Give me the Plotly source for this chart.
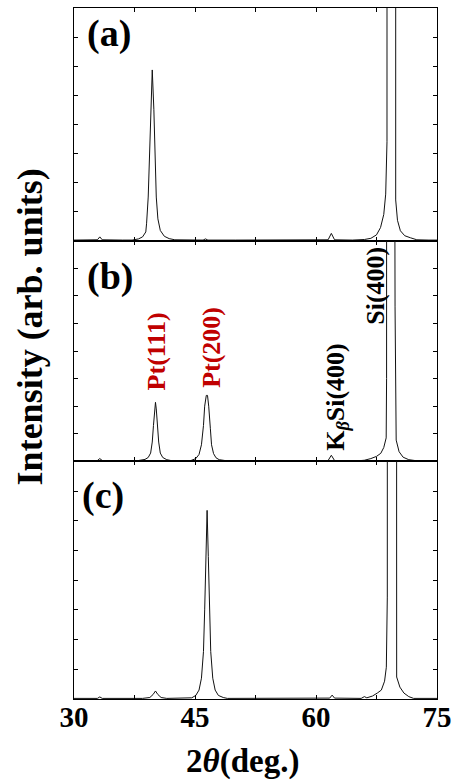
import plotly.graph_objects as go

# ---------------- data ----------------
# panel (a)
xa = [30.0, 32.0, 32.9, 33.2, 33.5, 36.0, 37.2, 38.0, 38.5, 38.9, 39.0, 39.2, 39.35, 39.5, 39.7,
      39.9, 40.05, 40.2, 40.4, 40.7, 41.2, 41.8, 42.5, 44.0, 46.0, 46.3, 46.6, 50.0, 55.0, 60.0,
      61.5, 61.9, 62.3, 64.5, 65.2, 66.0, 66.8, 67.5, 68.0, 68.4, 68.64, 68.8, 68.85, 69.85, 69.88,
      70.1, 70.46, 71.0, 71.7, 72.5, 74.0, 75.0]
ya = [0.02, 0.02, 0.03, 0.13, 0.03, 0.02, 0.02, 0.06, 0.13, 0.3, 0.6, 1.5, 2.8, 4.5, 5.87,
      4.5, 2.8, 1.5, 0.75, 0.35, 0.15, 0.07, 0.03, 0.02, 0.02, 0.06, 0.02, 0.02, 0.02, 0.02,
      0.03, 0.25, 0.03, 0.02, 0.02, 0.04, 0.08, 0.2, 0.45, 0.9, 1.6, 3.4, 150.0, 150.0, 1.4,
      0.7, 0.34, 0.17, 0.1, 0.03, 0.02, 0.02]

# panel (b)
xb = [30.0, 32.9, 33.2, 33.5, 36.0, 38.0, 38.8, 39.2, 39.5, 39.7, 39.85, 40.0, 40.1, 40.2,
      40.35, 40.5, 40.7, 41.0, 41.5, 42.0, 43.0, 44.5, 45.1, 45.5, 45.8, 46.05, 46.2, 46.4,
      46.55, 46.7, 46.9, 47.05, 47.3, 47.6, 48.0, 48.7, 50.0, 55.0, 61.5, 61.9, 62.3, 65.2,
      66.0, 66.8, 67.5, 68.03, 68.4, 68.7, 68.75, 68.85, 69.78, 69.8, 69.94, 70.3, 70.8, 71.5,
      72.5, 75.0]
yb = [0.02, 0.03, 0.1, 0.03, 0.02, 0.03, 0.07, 0.14, 0.3, 0.7, 1.3, 1.9, 2.14, 1.9,
      1.3, 0.7, 0.3, 0.14, 0.06, 0.03, 0.02, 0.03, 0.1, 0.25, 0.6, 1.3, 2.0, 2.39,
      2.39, 2.0, 1.2, 0.6, 0.28, 0.13, 0.06, 0.03, 0.02, 0.02, 0.03, 0.22, 0.03, 0.02,
      0.04, 0.1, 0.18, 0.29, 0.5, 0.85, 3.0, 150.0, 150.0, 5.6, 0.77, 0.35, 0.15, 0.06,
      0.02, 0.02]

# panel (c)
xc = [30.0, 32.9, 33.2, 33.5, 38.5, 39.4, 39.8, 40.1, 40.4, 40.8, 41.5, 44.0, 44.6, 45.1,
      45.5, 45.8, 46.05, 46.2, 46.35, 46.5, 46.65, 46.8, 46.95, 47.2, 47.5, 47.9, 48.5, 49.0,
      55.0, 61.7, 62.0, 62.3, 65.6, 66.0, 66.3, 67.0, 67.6, 68.1, 68.5, 68.72, 68.84, 68.9,
      69.85, 69.94, 70.0, 70.4, 70.9, 71.5, 72.1, 75.0]
yc = [0.02, 0.02, 0.07, 0.02, 0.02, 0.05, 0.15, 0.27, 0.15, 0.05, 0.02, 0.02, 0.04, 0.12,
      0.3, 0.7, 1.6, 3.0, 4.8, 6.35, 4.8, 3.0, 1.6, 0.7, 0.3, 0.12, 0.05, 0.02,
      0.02, 0.03, 0.13, 0.03, 0.02, 0.08, 0.04, 0.1, 0.2, 0.3, 0.6, 1.07, 3.43, 150.0,
      150.0, 3.0, 0.74, 0.4, 0.2, 0.08, 0.02, 0.02]

x_tickvals = [30, 45, 60, 75]
x_ticktext = ["30", "45", "60", "75"]
x_minor_tickvals = [37.5, 52.5, 67.5]
panel_labels = ["(a)", "(b)", "(c)"]
peak_labels = ["Pt(111)", "Pt(200)", "Si(400)", "K<sub><i>β</i></sub>Si(400)"]
y_title = "Intensity (arb. units)"
x_title = "2<i>θ</i>(deg.)"

# ---------------- figure ----------------
SERIF = "Liberation Serif"
fig = go.Figure()
line = dict(color="#111111", width=1)
fig.add_trace(go.Scatter(x=xa, y=ya, mode="lines", line=line, xaxis="x", yaxis="y", showlegend=False))
fig.add_trace(go.Scatter(x=xb, y=yb, mode="lines", line=line, xaxis="x2", yaxis="y2", showlegend=False))
fig.add_trace(go.Scatter(x=xc, y=yc, mode="lines", line=line, xaxis="x3", yaxis="y3", showlegend=False))

ax_common = dict(showline=True, linecolor="black", linewidth=1, mirror="allticks",
                 ticks="inside", ticklen=4, tickcolor="black", tickwidth=1,
                 showgrid=False, zeroline=False)
ph = 692.0
dom_c = [0, 238 / ph]
dom_b = [238 / ph, 459 / ph]
dom_a = [459 / ph, 1]

xcommon = dict(range=[30, 75], tickvals=x_tickvals, ticktext=x_ticktext,
               minor=dict(tickvals=x_minor_tickvals, ticks="inside", ticklen=4,
                          tickcolor="black", tickwidth=1, showgrid=False),
               **ax_common)
ycommon = dict(range=[0, 8], dtick=1, tick0=0, showticklabels=False, **ax_common)

fig.update_layout(
    width=459, height=781,
    margin=dict(l=74, r=15, t=7, b=82),
    paper_bgcolor="white", plot_bgcolor="white",
    xaxis=dict(anchor="y", showticklabels=False, matches="x3", **xcommon),
    xaxis2=dict(anchor="y2", showticklabels=False, matches="x3", **xcommon),
    xaxis3=dict(anchor="y3", showticklabels=True, ticklabelstandoff=-8,
                ticklabeloverflow="allow",
                tickfont=dict(family=SERIF, size=29, color="black", weight="bold"), **xcommon),
    yaxis=dict(domain=dom_a, anchor="x", **ycommon),
    yaxis2=dict(domain=dom_b, anchor="x2", **ycommon),
    yaxis3=dict(domain=dom_c, anchor="x3", **ycommon),
)

def px2paper(px, py):
    return (px - 74) / 370.0, (699 - py) / ph

anns = []
# panel labels
for lab, (cx, cy) in zip(panel_labels, [(110, 33), (111, 276), (104, 495)]):
    x, y = px2paper(cx, cy)
    anns.append(dict(text="<b>%s</b>" % lab, x=x, y=y, xref="paper", yref="paper",
                     xanchor="center", yanchor="middle", showarrow=False,
                     font=dict(family=SERIF, size=38, color="black")))
# peak labels (rotated)
for lab, (cx, cy), col in zip(peak_labels,
                              [(158.5, 351), (214, 347), (381, 285), (342.5, 396)],
                              ["#C00000", "#C00000", "black", "black"]):
    x, y = px2paper(cx, cy)
    anns.append(dict(text="<b>%s</b>" % lab, x=x, y=y, xref="paper", yref="paper",
                     xanchor="center", yanchor="middle", showarrow=False, textangle=-90,
                     font=dict(family=SERIF, size=26, color=col)))
# axis titles
x, y = px2paper(29, 326)
anns.append(dict(text="<b>%s</b>" % y_title, x=x, y=y, xref="paper", yref="paper",
                 xanchor="center", yanchor="middle", showarrow=False, textangle=-90,
                 font=dict(family=SERIF, size=36, color="black")))
x, y = px2paper(246, 762)
anns.append(dict(text="<b>%s</b>" % x_title, x=x, y=y, xref="paper", yref="paper",
                 xanchor="center", yanchor="middle", showarrow=False,
                 font=dict(family=SERIF, size=33, color="black")))
fig.update_layout(annotations=anns)

fig.write_html("out.html", config={"displayModeBar": False},
               post_script="document.body.style.margin='0px';")
